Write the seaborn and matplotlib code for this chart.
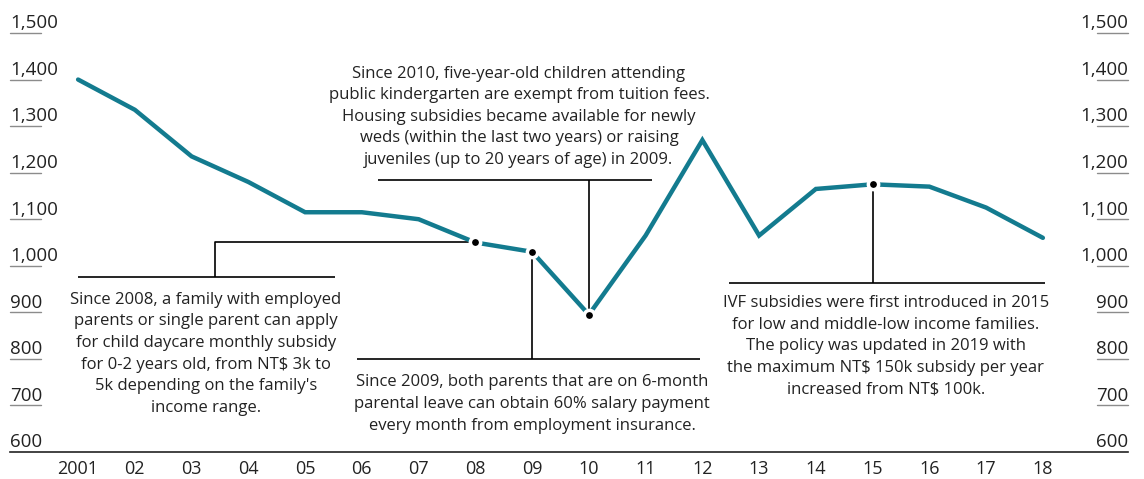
import matplotlib
matplotlib.use("Agg")
import matplotlib.pyplot as plt
import seaborn as sns
import pandas as pd

years = list(range(2001, 2019))
tfr = [1400, 1335, 1235, 1180, 1115, 1115, 1100, 1050, 1030, 895,
       1065, 1270, 1065, 1165, 1175, 1170, 1125, 1060]
xtick_labels = ["2001", "02", "03", "04", "05", "06", "07", "08", "09",
                "10", "11", "12", "13", "14", "15", "16", "17", "18"]
yticks = [600, 700, 800, 900, 1000, 1100, 1200, 1300, 1400, 1500]
ytick_labels = ["600", "700", "800", "900", "1,000", "1,100", "1,200",
                "1,300", "1,400", "1,500"]
marked_years = [2008, 2009, 2010, 2015]

note_2008 = ("Since 2008, a family with employed\nparents or single parent can apply\n"
             "for child daycare monthly subsidy\nfor 0-2 years old, from NT$ 3k to\n"
             "5k depending on the family's\nincome range.")
note_2009 = ("Since 2009, both parents that are on 6-month\n"
             "parental leave can obtain 60% salary payment\n"
             "every month from employment insurance.")
note_2010 = ("Since 2010, five-year-old children attending\n"
             "public kindergarten are exempt from tuition fees.\n"
             "Housing subsidies became available for newly\n"
             "weds (within the last two years) or raising\n"
             "juveniles (up to 20 years of age) in 2009.")
note_2015 = ("IVF subsidies were first introduced in 2015\n"
             "for low and middle-low income families.\n"
             "The policy was updated in 2019 with\n"
             "the maximum NT$ 150k subsidy per year\n"
             "increased from NT$ 100k.")

df = pd.DataFrame({"year": years, "tfr": tfr})
val = dict(zip(years, tfr))

sns.set_theme(style="white")
plt.rcParams["font.family"] = ["Open Sans", "DejaVu Sans"]

W, H = 1144, 479
fig = plt.figure(figsize=(W / 100, H / 100), dpi=100)
ax = fig.add_axes([10 / W, 1 - 452 / H, 1118 / W, (452 - 33) / H])

LINE = "#137b8f"
TXT = "#222222"
sns.lineplot(data=df, x="year", y="tfr", ax=ax, color=LINE, linewidth=3.2,
             solid_joinstyle="miter", zorder=3)

ax.set_xlim(1999.80, 2019.50)
ax.set_ylim(600, 1500)
for s in ["top", "right", "left"]:
    ax.spines[s].set_visible(False)
ax.spines["bottom"].set_color(TXT)
ax.spines["bottom"].set_linewidth(1.2)
ax.set_yticks([])
ax.set_xticks(years)
ax.set_xticklabels(xtick_labels, fontsize=13, color=TXT)
ax.tick_params(axis="x", length=0, pad=6)

# y labels with short underlines on both sides
trans = ax.get_yaxis_transform()
for v, lab in zip(yticks, ytick_labels):
    if v > 600:
        ax.plot([0, 0.0277], [v, v], transform=trans, color="#8c8c8c", lw=1, clip_on=False)
        ax.plot([0.9723, 1.0], [v, v], transform=trans, color="#8c8c8c", lw=1, clip_on=False)
    ax.text(0, v + 10, lab, transform=trans, ha="left", va="baseline", fontsize=13.5, color=TXT)
    ax.text(1.0, v + 10, lab, transform=trans, ha="right", va="baseline", fontsize=13.5, color=TXT)

# annotation leaders
k = dict(color="black", lw=1.2, zorder=2, solid_capstyle="butt")
tk = dict(ha="center", va="center", fontsize=12, linespacing=1.47, color=TXT)
# 2008
ax.plot([2008, 2003.41, 2003.41], [val[2008], val[2008], 976], **k)
ax.plot([2001.0, 2005.53], [976, 976], **k)
ax.text(2003.25, 811, note_2008, **tk)
# 2009
ax.plot([2009, 2009], [val[2009], 800], **k)
ax.plot([2005.92, 2011.96], [800, 800], **k)
ax.text(2009.0, 703, note_2009, **tk)
# 2010
ax.plot([2010, 2010], [val[2010], 1184], **k)
ax.plot([2006.29, 2011.11], [1184, 1184], **k)
ax.text(2008.77, 1320, note_2010, **tk)
# 2015
ax.plot([2015, 2015], [val[2015], 963], **k)
ax.plot([2012.47, 2018.04], [963, 963], **k)
ax.text(2015.23, 827, note_2015, **tk)

# markers with white halo
mk = df[df["year"].isin(marked_years)]
sns.scatterplot(data=mk, x="year", y="tfr", ax=ax, color="black", s=55,
                edgecolor="white", linewidth=2.5, zorder=5, legend=False)
ax.set_xlabel("")
ax.set_ylabel("")

fig.savefig("out.png", dpi=100)
